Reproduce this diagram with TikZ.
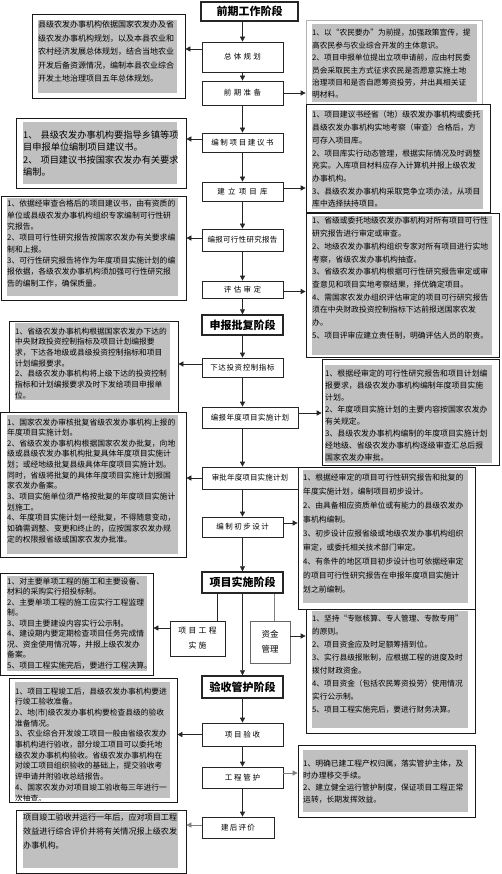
\documentclass[tikz,border=0pt]{standalone}
\usepackage{fontspec}
\newfontfamily\cjk{Noto Sans CJK SC}
\usetikzlibrary{arrows.meta,calc}
\definecolor{boxgray}{RGB}{192,192,192}
\newcommand\lsp[1]{\addfontfeatures{LetterSpace=#1}}
\begin{document}
\begin{tikzpicture}[x=1pt,y=-1pt,
  cbox/.style={draw=black!85, line width=0.7pt, fill=white, inner sep=0pt, align=center, font=\cjk\fontsize{7.5}{9}\selectfont},
  tbox/.style={draw=black!85, line width=1.4pt, fill=white, inner sep=0pt, font=\cjk\bfseries\fontsize{11}{13}\selectfont},
  sidebox/.style={draw=black!90, line width=0.7pt, fill=white, inner sep=0pt},
  stext/.style 2 args={anchor=base west, inner sep=0pt, align=left, text width=215pt, font=\cjk\fontsize{#1}{#2}\selectfont},
  arr/.style={draw=black!85, line width=0.7pt, -{Triangle[width=5pt,length=5pt]}},
  garr/.style={arr, draw=black!50},
  conn/.style={draw=black!85, line width=0.7pt}]
\fill[white] (0,0) rectangle (501,874);
\useasboundingbox (0,0) rectangle (501,874);
\coordinate (cx) at (242.5,0);
\coordinate (cl) at (217,0);
\coordinate (cr) at (274,0);

% ---------- left boxes ----------
\node[sidebox, minimum width=153pt, minimum height=84pt] (L1) at (108.5,56) {};
\fill[boxgray] (38,20) rectangle (177,93);
\node[stext={8.0}{13.5}] (L1t) at (38,28.0) {县级农发办事机构依据国家农发办及省\\级农发办事机构规划，以及本县农业和\\农村经济发展总体规划，结合当地农业\\开发后备资源情况，编制本县农业综合\\开发土地治理项目五年总体规划。};

\node[sidebox, minimum width=170pt, minimum height=70pt] (L2) at (101,153) {};
\fill[boxgray] (23,122) rectangle (177,184);
\node[stext={9.2}{12.3}] (L2t) at (23,138.5) {1、 县级农发办事机构要指导乡镇等项\\目申报单位编制项目建议书。\\2、 项目建议书按国家农发办有关要求\\编制。};

\node[sidebox, minimum width=185pt, minimum height=104pt] (L3) at (93.5,248) {};
\fill[boxgray] (7,198) rectangle (178,296);
\node[stext={7.8}{11.3}] (L3t) at (7,207.0) {1、依据经审查合格后的项目建议书，由有资质的\\单位或县级农发办事机构组织专家编制可行性研\\究报告。\\2、项目可行性研究报告按国家农发办有关要求编\\制和上报。\\3、可行性研究报告将作为年度项目实施计划的编\\报依据，各级农发办事机构须加强可行性研究报\\告的编制工作，确保质量。};

\node[sidebox, minimum width=169pt, minimum height=91pt] (L4) at (93.5,366.5) {};
\fill[boxgray] (15,323) rectangle (170,400);
\node[stext={7.75}{10.67}] (L4t) at (15,334.0) {1、省级农发办事机构根据国家农发办下达的\\中央财政投资控制指标及项目计划编报要\\求，下达各地级或县级投资控制指标和项目\\计划编报要求。\\2、县级农发办事机构将上级下达的投资控制\\指标和计划编报要求及时下发给项目申报单\\位。};

\node[sidebox, minimum width=185.5pt, minimum height=145pt] (L5) at (93.25,484.5) {};
\fill[boxgray] (7,415) rectangle (178,554);
\node[stext={7.8}{10.64}] (L5t) at (7,425.0) {1、国家农发办审核批复省级农发办事机构上报的\\年度项目实施计划。\\2、省级农发办事机构根据国家农发办批复，向地\\级或县级农发办事机构批复具体年度项目实施计\\划；或经地级批复县级具体年度项目实施计划。\\同时，省级将批复的具体年度项目实施计划报国\\家农发办备案。\\3、项目实施单位须严格按批复的年度项目实施计\\划施工。\\4、年度项目实施计划一经批复，不得随意变动，\\如确需调整、变更和终止的，应按国家农发办规\\定的权限报省级或国家农发办批准。};

\node[sidebox, minimum width=152.5pt, minimum height=102pt] (L6) at (76.75,624) {};
\fill[boxgray] (7,576) rectangle (147,671);
\node[stext={7.8}{10.5}] (L6t) at (7,584.0) {1、对主要单项工程的施工和主要设备、\\材料的采购实行招投标制。\\2、主要单项工程的施工应实行工程监理\\制。\\3、项目主要建设内容实行公示制。\\4、建设期内要定期检查项目任务完成情\\况、资金使用情况等，并报上级农发办\\备案。\\5、项目工程实施完后，要进行工程决算。};

\node[sidebox, minimum width=168pt, minimum height=124pt] (L7) at (93,740) {};
\fill[boxgray] (15,682) rectangle (170,798);
\begin{scope}
\clip (12,681) rectangle (174,800);
\node[stext={7.75}{10.7}] (L7t) at (15,694.0) {1、项目工程竣工后，县级农发办事机构要进\\行竣工验收准备。\\2、地(市)级农发办事机构要检查县级的验收\\准备情况。\\3、农业综合开发竣工项目一般由省级农发办\\事机构进行验收，部分竣工项目可以委托地\\级农发办事机构验收。省级农发办事机构在\\对竣工项目组织验收的基础上，提交验收考\\评申请并附验收总结报告。\\4、国家农发办对项目竣工验收每三年进行一\\次抽查。};
\end{scope}

\node[sidebox, minimum width=170pt, minimum height=63pt] (L8) at (101,841.5) {};
\fill[boxgray] (23,812) rectangle (178,868);
\node[stext={8.1}{14}] (L8t) at (23,820.1) {项目竣工验收并运行一年后，应对项目工程\\效益进行综合评价并将有关情况报上级农发\\办事机构。};

% ---------- right boxes ----------
\node[sidebox, draw=black!30, minimum width=176pt, minimum height=84pt] (R1) at (394,62) {};
\fill[boxgray] (312,24) rectangle (477,102);
\node[stext={7.7}{12.4}] (R1t) at (312,35.9) {1、以“农民要办”为前提，加强政策宣传，提\\高农民参与农业综合开发的主体意识。\\2、项目申报单位提出立项申请前，应由村民委\\员会采取民主方式征求农民是否愿意实施土地\\治理项目和是否自愿筹资投劳，并出具相关证\\明材料。};

\node[sidebox, minimum width=184pt, minimum height=108pt] (R2) at (398,158) {};
\fill[boxgray] (312,110) rectangle (483,209);
\node[stext={7.8}{12.7}] (R2t) at (312,118.0) {1、项目建议书经省（地）级农发办事机构或委托\\县级农发办事机构实地考察（审查）合格后，方\\可存入项目库。\\2、项目库实行动态管理，根据实际情况及时调整\\充实。入库项目材料应存入计算机并报上级农发\\办事机构。\\3、县级农发办事机构采取竞争立项办法，从项目\\库中选择扶持项目。};

\node[sidebox, minimum width=193pt, minimum height=144pt] (R3) at (402.5,285) {};
\fill[boxgray] (312,216) rectangle (492,355);
\node[stext={7.8}{12.67}] (R3t) at (312,224.0) {1、省级或委托地级农发办事机构对所有项目可行性\\研究报告进行审定或审查。\\2、地级农发办事机构组织专家对所有项目进行实地\\考察，省级农发办事机构抽查。\\3、省级农发办事机构根据可行性研究报告审定或审\\查意见和项目实地考察结果，择优确定项目。\\4、需国家农发办组织评估审定的项目可行研究报告\\须在中央财政投资控制指标下达前报送国家农发\\办。\\5、项目评审应建立责任制，明确评估人员的职责。};

\node[sidebox, minimum width=177pt, minimum height=106pt] (R4) at (410.5,412) {};
\fill[boxgray] (325,365) rectangle (492,463);
\node[stext={7.9}{12}] (R4t) at (325,376.0) {1、根据经审定的可行性研究报告和项目计划编\\报要求，县级农发办事机构编制年度项目实施\\计划。\\2、年度项目实施计划的主要内容按国家农发办\\有关规定。\\3、县级农发办事机构编制的年度项目实施计划\\经地级、省级农发办事机构逐级审查汇总后报\\国家农发办审批。};

\node[sidebox, minimum width=177pt, minimum height=142pt] (R5) at (386.5,538) {};
\fill[boxgray] (303,470) rectangle (468,603);
\node[stext={7.8}{14}] (R5t) at (303,480.0) {1、根据经审定的项目可行性研究报告和批复的\\年度实施计划，编制项目初步设计。\\2、由具备相应资质单位或有能力的县级农发办\\事机构编制。\\3、初步设计应报省级或地级农发办事机构组织\\审定，或委托相关技术部门审定。\\4、有条件的地区项目初步设计也可依据经审定\\的项目可行性研究报告在申报年度项目实施计\\划之前编制。};

\node[sidebox, minimum width=169pt, minimum height=124pt] (R6) at (390.5,671) {};
\fill[boxgray] (312,611) rectangle (468,728);
\node[stext={7.7}{13}] (R6t) at (312,621.9) {1、坚持“专账核算、专人管理、专款专用”\\的原则。\\2、项目资金应及时足额筹措到位。\\3、实行县级报账制，应根据工程的进度及时\\拨付财政资金。\\4、项目资金（包括农民筹资投劳）使用情况\\实行公示制。\\5、项目工程实施完后，要进行财务决算。};

\node[sidebox, minimum width=177pt, minimum height=72pt] (R7) at (386.5,781) {};
\fill[boxgray] (303,750) rectangle (468,812);
\node[stext={7.8}{12.3}] (R7t) at (303,766.0) {1、明确已建工程产权归属，落实管护主体，及\\时办理移交手续。\\2、建立健全运行管护制度，保证项目工程正常\\运转，长期发挥效益。};

% ---------- centre column ----------
\node[tbox, minimum width=97pt, minimum height=19pt] (T1) at (249.5,11.5) {前期工作阶段};
\node[cbox, minimum width=81pt, minimum height=30pt] (B1) at (242.5,57) {\lsp{30}总体规划};
\node[cbox, minimum width=81pt, minimum height=24pt] (B2) at (242.5,93) {\lsp{33}前期准备};
\node[cbox, minimum width=81pt, minimum height=19pt] (B3) at (242.5,142.5) {\lsp{22}编制项目建议书};
\node[cbox, minimum width=81pt, minimum height=19pt] (B4) at (242.5,191.5) {\lsp{42}建立项目库};
\node[cbox, minimum width=81pt, minimum height=22pt] (B5) at (242.5,240) {\lsp{4}编报可行性研究报告};
\node[cbox, minimum width=81pt, minimum height=17pt] (B6) at (242.5,289.5) {\lsp{33}评估审定};
\node[tbox, minimum width=81pt, minimum height=20pt] (T2) at (242.5,325) {申报批复阶段};
\node[cbox, minimum width=81pt, minimum height=19pt] (B7) at (242.5,367.5) {\lsp{8}下达投资控制指标};
\node[cbox, minimum width=96pt, minimum height=21pt] (B8) at (250,417.5) {\lsp{5}编报年度项目实施计划};
\node[cbox, minimum width=96pt, minimum height=22pt] (B9) at (250,478) {\lsp{2}审批年度项目实施计划};
\node[cbox, minimum width=81pt, minimum height=20pt] (B10) at (242.5,527) {\lsp{20}编制初步设计};
\node[tbox, minimum width=81pt, minimum height=21pt] (T3) at (242.5,582.5) {项目实施阶段};
\node[cbox, font=\cjk\fontsize{7.8}{15}\selectfont, minimum width=55pt, minimum height=35pt] (B11) at (197.5,638.5) {\lsp{30}项目工程\\\lsp{30}实施};
\node[cbox, font=\cjk\fontsize{8.5}{15}\selectfont, draw=black!60, minimum width=40pt, minimum height=42pt] (B12) at (270,642) {资金\\管理};
\node[tbox, minimum width=81pt, minimum height=22pt] (T4) at (242.5,687) {验收管护阶段};
\node[cbox, minimum width=81pt, minimum height=23pt] (B13) at (242.5,734.5) {\lsp{23}项目验收};
\node[cbox, minimum width=81pt, minimum height=21pt] (B14) at (242.5,777.5) {\lsp{23}工程管护};
\node[cbox, minimum width=72pt, minimum height=21pt] (B15) at (238,827.5) {\lsp{17}建后评价};

% ---------- vertical connectors ----------
\draw[arr] (cx |- T1.south) -- (cx |- B1.north);
\draw[arr] (cx |- B1.south) -- (cx |- B2.north);
\draw[arr] (cx |- B2.south) -- (cx |- B3.north);
\draw[arr] (cx |- B3.south) -- (cx |- B4.north);
\draw[arr] (cx |- B4.south) -- (cx |- B5.north);
\draw[arr] (cx |- B5.south) -- (cx |- B6.north);
\draw[arr] (cx |- B6.south) -- (cx |- T2.north);
\draw[arr] (cx |- T2.south) -- (cx |- B7.north);
\draw[arr] (cx |- B7.south) -- (cx |- B8.north);
\draw[arr] (cx |- B8.south) -- (cx |- B9.north);
\draw[arr] (cx |- B9.south) -- (cx |- B10.north);
\draw[arr] (cx |- B10.south) -- (cx |- T3.north);
\draw[conn] (cl |- T3.south) -- (cl |- B11.north);
\draw[conn, draw=black!50] (cr |- T3.south) -- (cr |- B12.north);
\draw[arr] (cx |- T3.south) -- (cx |- T4.north);
\draw[arr] (cx |- T4.south) -- (cx |- B13.north);
\draw[arr] (cx |- B13.south) -- (cx |- B14.north);
\draw[arr] (cx |- B14.south) -- (cx |- B15.north);

% ---------- horizontal connectors ----------
\draw[arr] ($(B1.west)+(0,-8)$) -- ($(L1.east |- B1.west)+(0,-8)$);
\draw[arr] (B2.east) -- (R1.west |- B2.east);
\draw[arr] ($(B3.west)+(0,-3.5)$) -- ($(L2.east |- B3.west)+(0,-3.5)$);
\draw[arr] ($(B4.east)+(0,-3.5)$) -- ($(R2.west |- B4.east)+(0,-3.5)$);
\draw[arr] ($(B5.west)+(0,-2)$) -- ($(L3.east |- B5.west)+(0,-2)$);
\draw[arr] ($(B6.east)+(0,2)$) -- ($(R3.west |- B6.east)+(0,2)$);
\draw[arr] ($(B7.west)+(0,-3.5)$) -- ($(L4.east |- B7.west)+(0,-3.5)$);
\draw[arr] ($(B8.east)+(0,-4.5)$) -- ($(R4.west |- B8.east)+(0,-4.5)$);
\draw[arr] (B9.west) -- (L5.east |- B9.west);
\draw[arr] ($(B10.east)+(0,-4)$) -- ($(R5.west |- B10.east)+(0,-4)$);
\draw[arr] ($(B11.west)+(0,-10.5)$) -- ($(L6.east |- B11.west)+(0,-10.5)$);
\draw[arr] ($(B12.east)+(0,-6)$) -- ($(R6.west |- B12.east)+(0,-6)$);
\draw[arr] (B13.west) -- (L7.east |- B13.west);
\draw[garr] ($(B14.east)+(0,-4.5)$) -- ($(R7.west |- B14.east)+(0,-4.5)$);
\draw[garr] ($(B15.west)+(0,-2.5)$) -- ($(L8.east |- B15.west)+(0,-2.5)$);
\end{tikzpicture}
\end{document}
